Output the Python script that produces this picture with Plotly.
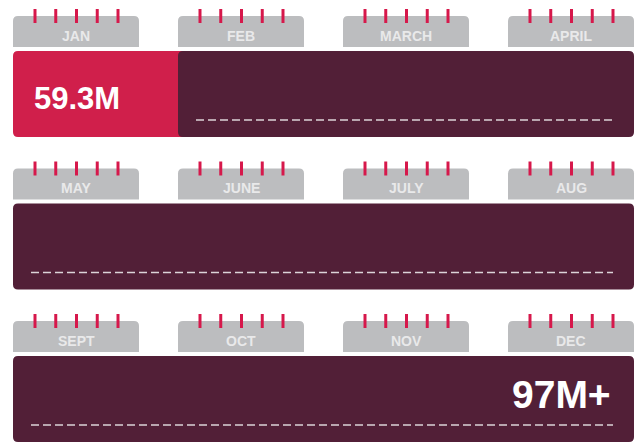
import plotly.graph_objects as go

# ---- data ----
months = ["JAN", "FEB", "MARCH", "APRIL", "MAY", "JUNE",
          "JULY", "AUG", "SEPT", "OCT", "NOV", "DEC"]
elapsed_months = 1          # months highlighted in red
start_value = "59.3M"       # value reached so far
end_value = "97M+"          # value at year end
rings_per_tab = 5

# ---- layout constants ----
W, H = 639, 443
COLS = 4
LEFT = 13
SLOT = 165
TAB_W = 126
TAB_H = 31
ROW_TOP0 = 16
ROW_PITCH = 152.5
BAR_GAP = 4
BAR_H = 86
RING_START = 22
RING_STEP = 20.75
RING_HALF = 7
DASH_INSET_L = 18
DASH_INSET_R = 21
DASH_Y = 104

GRAY = "#bcbdbf"
RED = "#d01f4b"
MAROON = "#521f37"
RING = "#d6184b"
LABEL = "#e9e9ea"
DASH = "#dcd3d8"
FONT = "Liberation Sans, Arial, sans-serif"


def rr(x0, y0, x1, y1, tl=0, tr=0, br=0, bl=0):
    return (f"M{x0+tl},{y0} L{x1-tr},{y0} Q{x1},{y0} {x1},{y0+tr} "
            f"L{x1},{y1-br} Q{x1},{y1} {x1-br},{y1} L{x0+bl},{y1} "
            f"Q{x0},{y1} {x0},{y1-bl} L{x0},{y0+tl} Q{x0},{y0} {x0+tl},{y0} Z")


shapes = []
annotations = []
n_rows = (len(months) + COLS - 1) // COLS
bar_right = LEFT + (COLS - 1) * SLOT + TAB_W

for i, m in enumerate(months):
    r, c = divmod(i, COLS)
    top = ROW_TOP0 + r * ROW_PITCH
    x0 = LEFT + c * SLOT
    shapes.append(dict(type="path", xref="x", yref="y",
                       path=rr(x0, top, x0 + TAB_W, top + TAB_H, 5, 5, 0, 0),
                       fillcolor=GRAY, line=dict(width=0), layer="above"))
    for k in range(rings_per_tab):
        rx = x0 + RING_START + k * RING_STEP
        shapes.append(dict(type="line", xref="x", yref="y",
                           x0=rx, x1=rx, y0=top - RING_HALF, y1=top + RING_HALF,
                           line=dict(color=RING, width=3), layer="above"))
    annotations.append(dict(x=x0 + TAB_W / 2, y=top + 19.5, xref="x", yref="y",
                            text=f"<b>{m}</b>", showarrow=False,
                            font=dict(family=FONT, size=14, color=LABEL),
                            xanchor="center", yanchor="middle"))

for r in range(n_rows):
    top = ROW_TOP0 + r * ROW_PITCH
    b0 = top + TAB_H + BAR_GAP
    b1 = b0 + BAR_H
    n_red = max(0, min(COLS, elapsed_months - r * COLS))
    red_end = LEFT + n_red * SLOT
    if n_red > 0:
        shapes.append(dict(type="path", xref="x", yref="y",
                           path=rr(LEFT, b0, red_end + 6, b1, 5, 0, 0, 5),
                           fillcolor=RED, line=dict(width=0), layer="above"))
    shapes.append(dict(type="path", xref="x", yref="y",
                       path=rr(red_end, b0, bar_right, b1, 5, 5, 5, 5),
                       fillcolor=MAROON, line=dict(width=0), layer="above"))
    shapes.append(dict(type="line", xref="x", yref="y",
                       x0=red_end + DASH_INSET_L, x1=bar_right - DASH_INSET_R,
                       y0=top + DASH_Y, y1=top + DASH_Y,
                       line=dict(color=DASH, width=1.6, dash="8px,4px"),
                       layer="above"))
    if n_red > 0 and n_red < COLS:
        annotations.append(dict(x=LEFT + 19, y=(b0 + b1) / 2 + 4, xref="x", yref="y",
                                text=f"<b>{start_value}</b>", showarrow=False,
                                font=dict(family=FONT, size=31, color="white"),
                                xanchor="left", yanchor="middle"))
    if r == n_rows - 1:
        annotations.append(dict(x=bar_right - 21, y=(b0 + b1) / 2 - 5, xref="x", yref="y",
                                text=f"<b>{end_value}</b>", showarrow=False,
                                font=dict(family=FONT, size=39, color="white"),
                                xanchor="right", yanchor="middle"))

fig = go.Figure(go.Scatter(x=[0], y=[0], mode="markers",
                           marker=dict(opacity=0), hoverinfo="skip", showlegend=False))
fig.update_layout(
    width=W, height=H, margin=dict(l=0, r=0, t=0, b=0),
    paper_bgcolor="white", plot_bgcolor="white",
    xaxis=dict(range=[0, W], visible=False, fixedrange=True),
    yaxis=dict(range=[H, 0], visible=False, fixedrange=True),
    shapes=shapes, annotations=annotations, showlegend=False,
)
fig.write_html("out.html", config={"displayModeBar": False},
               post_script="document.body.style.margin='0';document.body.style.overflow='hidden';")
